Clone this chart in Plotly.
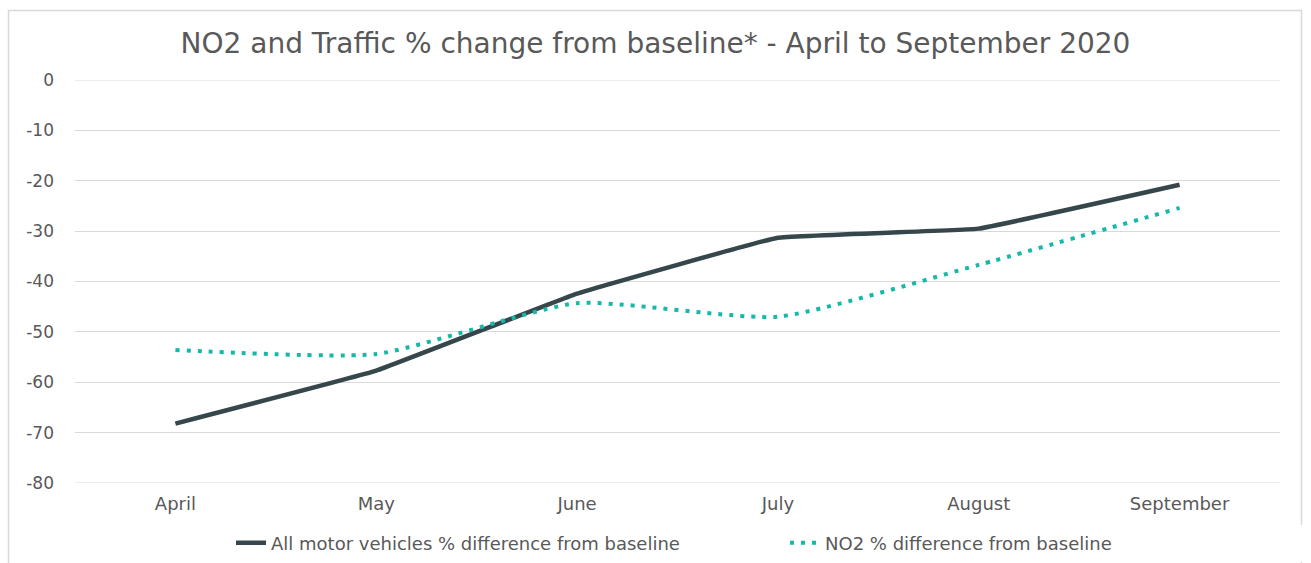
import plotly.graph_objects as go

months = ["April", "May", "June", "July", "August", "September"]
traffic = [-68.2, -57.7, -42.4, -31.3, -29.5, -20.8]
no2 = [-53.6, -54.4, -44.3, -47.0, -36.7, -25.4]
ytick_vals = [0, -10, -20, -30, -40, -50, -60, -70, -80]
ytick_text = ["0", "-10", "-20", "-30", "-40", "-50", "-60", "-70", "-80"]

TXT = "#595959"
FONT = "DejaVu Sans, sans-serif"

fig = go.Figure()
fig.add_trace(go.Scatter(
    x=months, y=traffic, mode="lines", line_shape="spline",
    name="All motor vehicles % difference from baseline",
    line=dict(color="#36474b", width=4.5, smoothing=0.2),
))
fig.add_trace(go.Scatter(
    x=months, y=no2, mode="lines", line_shape="spline",
    name="NO2 % difference from baseline",
    line=dict(color="#16b8a8", width=4, dash="4px,7px", smoothing=0.55),
))

L, R, T, B = 75, 31, 80, 80
W, H = 1311, 563
pw, ph = W - L - R, H - T - B

def px(x):
    return (x - L) / pw

def py(y):
    return (H - B - y) / ph

fig.update_layout(
    width=W, height=H,
    margin=dict(l=L, r=R, t=T, b=B, autoexpand=False),
    paper_bgcolor="white", plot_bgcolor="white",
    font=dict(family=FONT, size=15, color=TXT),
    title=dict(
        text="NO2 and Traffic % change from baseline* - April to September 2020",
        x=0.5, xanchor="center", y=1 - 43 / H, yanchor="middle",
        font=dict(family=FONT, size=28, color=TXT),
    ),
    showlegend=True,
    legend=dict(
        orientation="h", x=px(231), xanchor="left", y=py(543), yanchor="middle",
        font=dict(family=FONT, size=18, color=TXT),
        tracegroupgap=0, entrywidth=509, entrywidthmode="pixels",
    ),
    xaxis=dict(
        range=[-0.5, 5.5], showgrid=False, zeroline=False, showline=False,
        ticks="", tickfont=dict(size=18, color=TXT), ticklabelstandoff=8,
    ),
    yaxis=dict(
        range=[-80, 0], tickvals=ytick_vals, ticktext=ytick_text,
        showgrid=True, gridcolor="#d9d9d9",
        gridwidth=1, zeroline=False, showline=False, ticks="",
        tickfont=dict(size=17, color=TXT), ticklabelstandoff=20,
    ),
    shapes=[
        dict(type="rect", xref="paper", yref="paper",
             x0=px(8.5), x1=px(1301.5), y0=py(575), y1=py(10.5),
             line=dict(color="#d9d9d9", width=1.5), fillcolor="rgba(0,0,0,0)",
             layer="below"),
        dict(type="line", xref="paper", yref="y", x0=0, x1=1, y0=0, y1=0,
             line=dict(color="#d9d9d9", width=1), layer="below"),
        dict(type="line", xref="paper", yref="y", x0=0, x1=1, y0=-80, y1=-80,
             line=dict(color="#d9d9d9", width=1), layer="below"),
    ],
)

fig.write_html("out.html")
